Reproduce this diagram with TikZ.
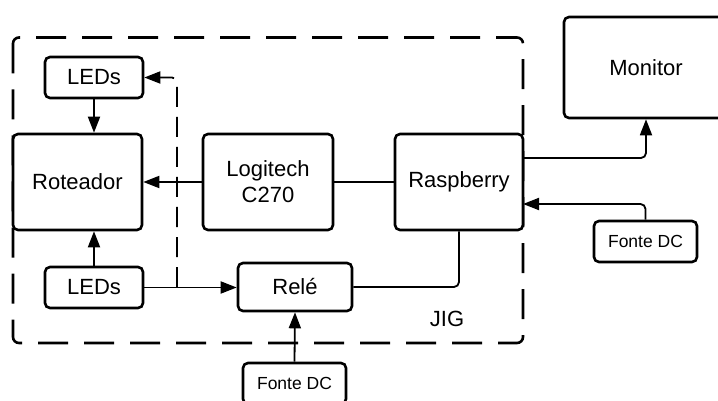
\documentclass[tikz,border=0pt]{standalone}
\usepackage{fontspec}
\setmainfont{Liberation Sans}
\usetikzlibrary{arrows.meta}
\begin{document}
\begin{tikzpicture}[x=1pt,y=-1pt,
  box/.style={draw,line width=2.6pt,rounded corners=5pt,fill=white,inner sep=0pt,
    font=\fontsize{22}{26}\selectfont,align=center},
  smallbox/.style={box,font=\fontsize{17.5}{21}\selectfont},
  conn/.style={line width=1.8pt},
  arr/.style={conn,-{Triangle[length=16pt,width=12pt]}},
  jigline/.style={line width=2.6pt,dash pattern=on 30pt off 16pt,rounded corners=6pt},
  dconn/.style={line width=1.8pt,dash pattern=on 20pt off 10pt}]
\useasboundingbox (0,0) rectangle (718,401);
\clip (0,0) rectangle (718,401);
% JIG dashed frame
\draw[jigline] (13,37.5) rectangle (523,343);
\node[font=\fontsize{22}{26}\selectfont] (jig) at (447,319) {JIG};
% nodes
\node[box,minimum width=98pt,minimum height=41pt] (ledtop) at (94,77.5) {LEDs};
\node[box,minimum width=129pt,minimum height=96pt] (rot) at (77.5,182) {Roteador};
\node[box,minimum width=130pt,minimum height=96pt] (logi) at (268,182) {Logitech\\C270};
\node[box,minimum width=128pt,minimum height=96pt] (rasp) at (459,182) {Raspberry};
\node[box,minimum width=164pt,minimum height=101pt] (mon) at (646,67.5) {Monitor};
\node[smallbox,minimum width=103pt,minimum height=41pt] (fonte1) at (645.5,241.5) {Fonte DC};
\node[box,minimum width=98pt,minimum height=41pt] (ledbot) at (94,287.5) {LEDs};
\node[box,minimum width=114pt,minimum height=48pt] (rele) at (295,287) {Relé};
\node[smallbox,minimum width=103pt,minimum height=41pt] (fonte2) at (294.5,383.5) {Fonte DC};
% helper coordinates
\coordinate (dj) at (177,287);
\coordinate (rm) at (523,158);
\coordinate (rf) at (523,204);
% connectors
\draw[arr] (ledtop.south) -- (ledtop.south |- rot.north);
\draw[arr] (ledbot.north) -- (ledbot.north |- rot.south);
\draw[arr] (logi.west) -- (rot.east);
\draw[conn] (rasp.west) -- (logi.east);
\draw[arr] (ledbot.east) -- (ledbot.east -| rele.west);
\draw[dconn,-{Triangle[length=16pt,width=12pt]},rounded corners=5pt] (dj) -- (177,77.5) -- (ledtop.east);
\draw[arr,rounded corners=5pt] (rm) -| (mon.south);
\draw[arr,rounded corners=5pt] (fonte1.north) |- (rf);
\draw[conn,rounded corners=5pt] (rasp.south) |- (rele.east);
\draw[arr] (fonte2.north) -- (rele.south);
\end{tikzpicture}
\end{document}
